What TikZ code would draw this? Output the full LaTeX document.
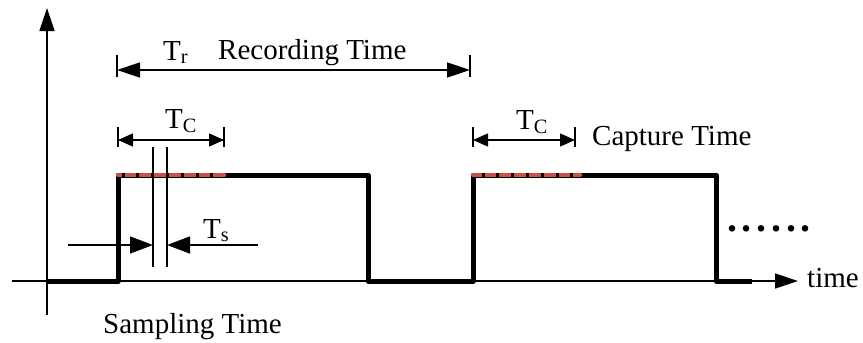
\documentclass[tikz,border=0pt]{standalone}
\usepackage{fontspec}
\setmainfont{Liberation Serif}
\usetikzlibrary{arrows.meta,calc}
\definecolor{sigred}{RGB}{198,84,72}
\begin{document}
\begin{tikzpicture}[x=1pt,y=-1pt,
  thinline/.style={line width=1.4pt},
  sigline/.style={line width=5pt,line join=round},
  redline/.style={line width=4.5pt,sigred,line cap=round},
  dotline/.style={line width=4.5pt,black,dash pattern=on 3pt off 11.8pt},
  bigarrow/.style={-{Triangle[length=23pt,width=15pt]}},
  dimarrow/.style={{Triangle[length=15pt,width=13pt]}-{Triangle[length=15pt,width=13pt]}},
  lbl/.style={inner sep=0pt,anchor=base west,font=\fontsize{29}{32}\selectfont}]
\useasboundingbox (0,0) rectangle (863,343);
% axes
\coordinate (yb) at (47,315);
\coordinate (yt) at (47,8);
\coordinate (xl) at (12,281);
\coordinate (xr) at (798,281);
\draw[thinline,bigarrow] (yb) -- (yt);
\draw[thinline,bigarrow] (xl) -- (xr);
% signal
\coordinate (s0) at (47,281);
\coordinate (s1) at (118,281);
\coordinate (s2) at (118,175);
\coordinate (s3) at (368,175);
\coordinate (s4) at (368,281);
\coordinate (s5) at (473,281);
\coordinate (s6) at (473,175);
\coordinate (s7) at (716,175);
\coordinate (s8) at (716,281);
\coordinate (s9) at (752,281);
\draw[sigline] (s0) -- (s1) -- (s2) -- (s3) -- (s4) -- (s5) -- (s6) -- (s7) -- (s8) -- (s9);
% capture red segments
\coordinate (c1a) at (118,175);
\coordinate (c1b) at (224,175);
\coordinate (c2a) at (473,175);
\coordinate (c2b) at (580,175);
\draw[redline] (c1a) -- (c1b);
\draw[redline] (c2a) -- (c2b);
\draw[dotline] ($(c1a)+(3.5,0)$) -- (c1b);
\draw[dotline] ($(c2a)+(8.5,0)$) -- (c2b);
% Tr dimension
\coordinate (tra) at (117,70);
\coordinate (trb) at (470,70);
\draw[thinline] ($(tra)+(0,-15)$) -- ($(tra)+(0,7)$);
\draw[thinline] ($(trb)+(0,-15)$) -- ($(trb)+(0,7)$);
\draw[thinline,{Triangle[length=23pt,width=15pt]}-{Triangle[length=23pt,width=15pt]}] (tra) -- (trb);
\node[lbl] (tr) at (163,60) {T\textsubscript{r}};
\node[lbl] (rec) at (218,59) {Recording Time};
% Tc first
\coordinate (tc1a) at (118,140);
\coordinate (tc1b) at (224,140);
\draw[thinline] ($(tc1a)+(0,-13)$) -- ($(tc1a)+(0,7)$);
\draw[thinline] ($(tc1b)+(0,-13)$) -- ($(tc1b)+(0,7)$);
\draw[thinline,dimarrow] (tc1a) -- (tc1b);
\node[lbl] (tc1) at (165,128) {T\textsubscript{C}};
% Tc second
\coordinate (tc2a) at (473,140);
\coordinate (tc2b) at (575,140);
\draw[thinline] ($(tc2a)+(0,-13)$) -- ($(tc2a)+(0,7)$);
\draw[thinline] ($(tc2b)+(0,-13)$) -- ($(tc2b)+(0,7)$);
\draw[thinline,dimarrow] (tc2a) -- (tc2b);
\node[lbl] (tc2) at (516,129) {T\textsubscript{C}};
\node[lbl] (cap) at (592,145) {Capture Time};
% Ts
\coordinate (v1t) at (153,147);
\coordinate (v1b) at (153,267);
\coordinate (v2t) at (167,147);
\coordinate (v2b) at (167,267);
\draw[thinline] (v1t) -- (v1b);
\draw[thinline] (v2t) -- (v2b);
\coordinate (tsl) at (68,245);
\coordinate (tsli) at (153,245);
\coordinate (tsr) at (258,245);
\coordinate (tsri) at (167,245);
\draw[thinline,{Triangle[length=23pt,width=17pt]}-] (tsli) -- (tsl);
\draw[thinline,{Triangle[length=23pt,width=17pt]}-] (tsri) -- (tsr);
\node[lbl] (ts) at (203,238) {T\textsubscript{s}};
% labels
\node[lbl,font=\fontsize{40}{44}\selectfont\bfseries] (dots) at (727,231) {.\hspace{4.7pt}.\hspace{4.7pt}.\hspace{4.7pt}.\hspace{4.7pt}.\hspace{4.7pt}.};
\node[lbl] (time) at (807,287) {time};
\node[lbl] (samp) at (103,333) {Sampling Time};
\end{tikzpicture}
\end{document}
